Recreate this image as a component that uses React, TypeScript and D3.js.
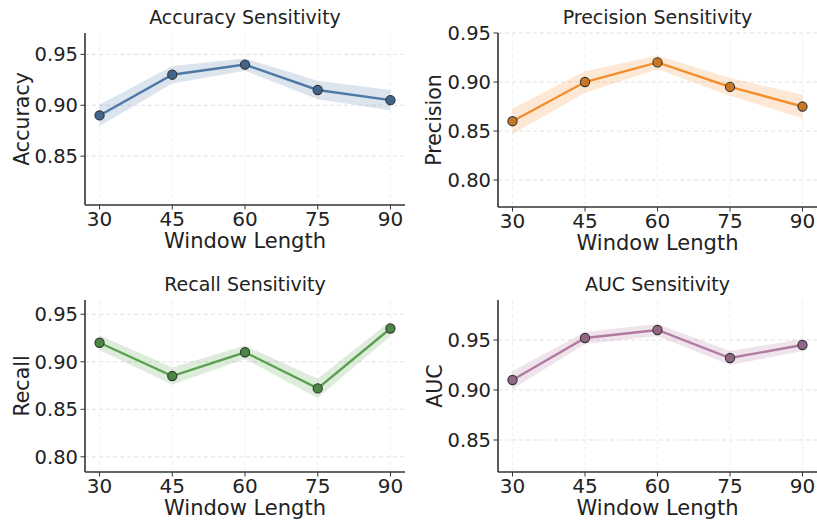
import * as d3 from 'd3';

const windowLengths = [30, 45, 60, 75, 90];

const accuracyMean = [0.89, 0.93, 0.94, 0.915, 0.905];
const accuracyStd = [0.0105, 0.0085, 0.006, 0.009, 0.01];
const precisionMean = [0.86, 0.9, 0.92, 0.895, 0.875];
const precisionStd = [0.013, 0.011, 0.007, 0.009, 0.012];
const recallMean = [0.92, 0.885, 0.91, 0.872, 0.935];
const recallStd = [0.008, 0.009, 0.007, 0.01, 0.008];
const aucMean = [0.91, 0.952, 0.96, 0.932, 0.945];
const aucStd = [0.009, 0.006, 0.006, 0.007, 0.006];

const yTicksAcc = [0.85, 0.9, 0.95];
const yTicksPrec = [0.8, 0.85, 0.9, 0.95];
const yTicksRec = [0.8, 0.85, 0.9, 0.95];
const yTicksAuc = [0.85, 0.9, 0.95];

const FONT = '"DejaVu Sans", sans-serif';

type PanelProps = {
  title: string;
  ylabel: string;
  mean: number[];
  std: number[];
  color: string;
  yDomain: [number, number];
  yTicks: number[];
  left: number;
  right: number;
  top: number;
  bottom: number;
  ylabelX: number;
};

const Panel = ({ title, ylabel, mean, std, color, yDomain, yTicks, left, right, top, bottom, ylabelX }: PanelProps) => {
  const x = d3.scaleLinear().domain([27, 93]).range([left, right]);
  const y = d3.scaleLinear().domain(yDomain).range([bottom, top]);

  const pts = windowLengths.map((w, i) => ({ w, m: mean[i], s: std[i] }));
  const line = d3.line<any>().x((d) => x(d.w)).y((d) => y(d.m));
  const area = d3
    .area<any>()
    .x((d) => x(d.w))
    .y0((d) => y(d.m - d.s))
    .y1((d) => y(d.m + d.s));

  const markFill = d3.color(color)!.darker(0.5).formatHex();

  return (
    <g>
      {/* grid */}
      {yTicks.map((t) => (
        <line key={'gy' + t} x1={left} x2={right} y1={y(t)} y2={y(t)} stroke="#d9d9d9" strokeWidth={0.8} strokeDasharray="4 3" />
      ))}
      {windowLengths.map((t) => (
        <line key={'gx' + t} x1={x(t)} x2={x(t)} y1={top} y2={bottom} stroke="#ececec" strokeWidth={0.8} strokeDasharray="4 3" />
      ))}
      <path d={area(pts) || ''} fill={color} fillOpacity={0.2} stroke="none" />
      <path d={line(pts) || ''} fill="none" stroke={color} strokeWidth={2.4} />
      {pts.map((d) => (
        <circle key={'c' + d.w} cx={x(d.w)} cy={y(d.m)} r={4.6} fill={markFill} stroke="#333" strokeWidth={1.1} />
      ))}
      {/* spines */}
      <line x1={left} x2={left} y1={top} y2={bottom} stroke="#333" strokeWidth={1.6} />
      <line x1={left} x2={right} y1={bottom} y2={bottom} stroke="#333" strokeWidth={1.6} />
      {yTicks.map((t) => (
        <g key={'yt' + t}>
          <line x1={left - 4.5} x2={left} y1={y(t)} y2={y(t)} stroke="#333" strokeWidth={1} />
          <text x={left - 7} y={y(t)} dy="0.36em" textAnchor="end" fontSize={19.5} fill="#222" fontFamily={FONT}>
            {t.toFixed(2)}
          </text>
        </g>
      ))}
      {windowLengths.map((t) => (
        <g key={'xt' + t}>
          <line x1={x(t)} x2={x(t)} y1={bottom} y2={bottom + 4.5} stroke="#333" strokeWidth={1} />
          <text x={x(t)} y={bottom + 21} textAnchor="middle" fontSize={20} fill="#222" fontFamily={FONT}>
            {t}
          </text>
        </g>
      ))}
      <text x={(left + right) / 2} y={bottom + 43} textAnchor="middle" fontSize={21} fill="#222" fontFamily={FONT}>
        Window Length
      </text>
      <text
        transform={`translate(${ylabelX},${(top + bottom) / 2}) rotate(-90)`}
        textAnchor="middle"
        dy="0.36em"
        fontSize={20.5}
        fill="#222"
        fontFamily={FONT}
      >
        {ylabel}
      </text>
      <text x={(left + right) / 2} y={top - 9} textAnchor="middle" fontSize={19} fill="#222" fontFamily={FONT}>
        {title}
      </text>
    </g>
  );
};

export default function App() {
  return (
    <svg
      width={817}
      height={520}
      style={{ position: 'absolute', left: 0, top: 0, background: '#fff' }}
    >
      <rect width={817} height={520} fill="#fff" />
      <Panel
        title="Accuracy Sensitivity"
        ylabel="Accuracy"
        mean={accuracyMean}
        std={accuracyStd}
        color="#4E79A7"
        yDomain={[0.802, 0.971]}
        yTicks={yTicksAcc}
        left={85}
        right={405}
        top={33}
        bottom={205}
        ylabelX={22}
      />
      <Panel
        title="Precision Sensitivity"
        ylabel="Precision"
        mean={precisionMean}
        std={precisionStd}
        color="#F28E2B"
        yDomain={[0.7725, 0.95]}
        yTicks={yTicksPrec}
        left={498}
        right={817}
        top={33}
        bottom={207}
        ylabelX={434}
      />
      <Panel
        title="Recall Sensitivity"
        ylabel="Recall"
        mean={recallMean}
        std={recallStd}
        color="#59A14F"
        yDomain={[0.784, 0.965]}
        yTicks={yTicksRec}
        left={85}
        right={405}
        top={300}
        bottom={472}
        ylabelX={22}
      />
      <Panel
        title="AUC Sensitivity"
        ylabel="AUC"
        mean={aucMean}
        std={aucStd}
        color="#B07AA1"
        yDomain={[0.818, 0.99]}
        yTicks={yTicksAuc}
        left={498}
        right={817}
        top={300}
        bottom={472}
        ylabelX={435}
      />
    </svg>
  );
}
